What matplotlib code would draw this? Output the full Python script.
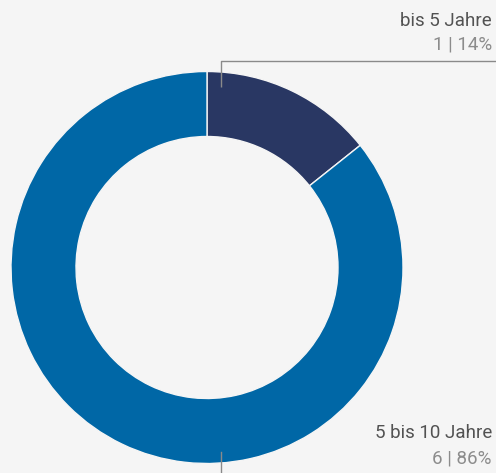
import matplotlib
matplotlib.use("Agg")
import matplotlib.pyplot as plt
from matplotlib import font_manager

categories = ["bis 5 Jahre", "5 bis 10 Jahre"]
counts = [1, 6]
percents = [14, 86]
colors = ["#293763", "#0067a6"]

names = {f.name for f in font_manager.fontManager.ttflist}
fam = "Liberation Sans Narrow" if "Liberation Sans Narrow" in names else "Roboto"
plt.rcParams["font.family"] = [fam, "DejaVu Sans"]

W, H = 496, 473
fig = plt.figure(figsize=(W / 100, H / 100), dpi=100, facecolor="#f5f5f5")
ax = fig.add_axes([0, 0, 1, 1])
ax.set_facecolor("#f5f5f5")

cx, cy, R = 207, H - 267.5, 196
ax.pie(counts, colors=colors, startangle=90, counterclock=False,
       center=(cx, cy), radius=R, frame=True,
       wedgeprops=dict(width=R - 131, edgecolor="#f5f5f5", linewidth=1))
ax.set_xlim(0, W)
ax.set_ylim(0, H)
ax.set_aspect("equal")
ax.axis("off")

lc = "#8a8a8a"
ax.plot([220.5, 220.5, W], [H - 87, H - 61, H - 61], color=lc, lw=1, solid_capstyle="butt")
ax.plot([220.5, 220.5], [H - 452, 0], color=lc, lw=1)

tx = 492
fs = 13.5
ax.text(tx, H - 21, categories[0], ha="right", va="center", fontsize=fs, color="#525252")
ax.text(tx, H - 45, f"{counts[0]} | {percents[0]}%", ha="right", va="center", fontsize=fs, color="#8c8c8c")
ax.text(tx, H - 433, categories[1], ha="right", va="center", fontsize=fs, color="#525252")
ax.text(tx, H - 458, f"{counts[1]} | {percents[1]}%", ha="right", va="center", fontsize=fs, color="#8c8c8c")

fig.savefig("out.png", dpi=100, facecolor=fig.get_facecolor())
